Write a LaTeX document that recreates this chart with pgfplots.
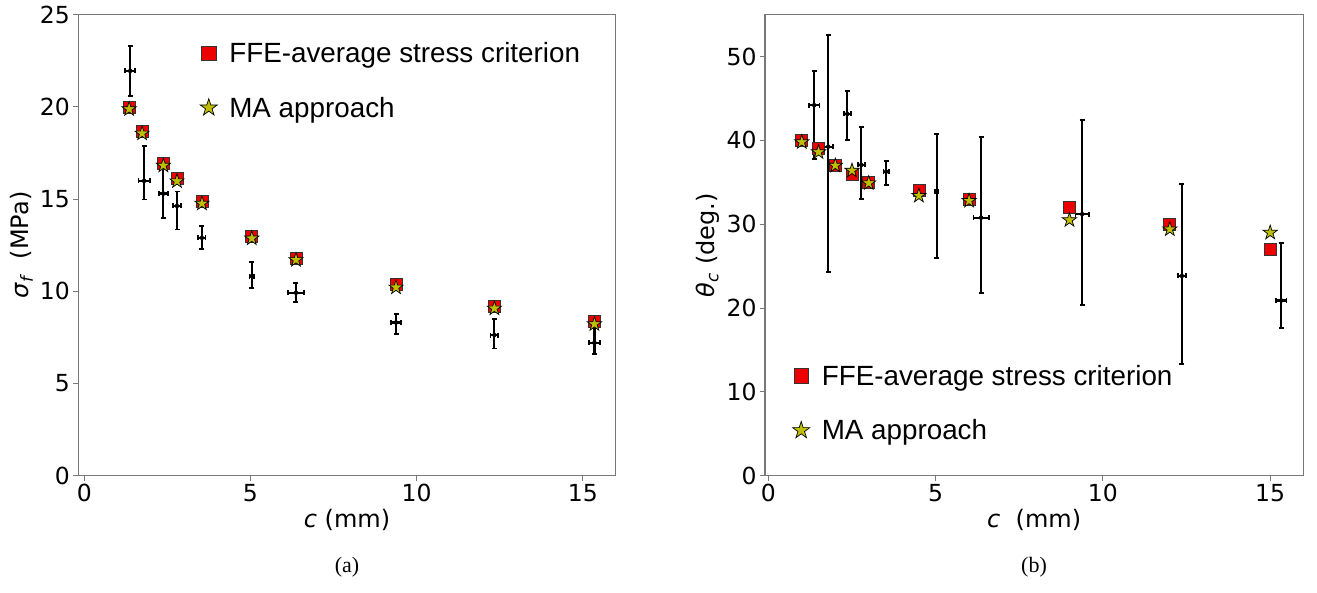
\documentclass[border=0pt]{standalone}
\usepackage{fontspec}
\setmainfont{DejaVu Sans}[ItalicFont={DejaVu Sans Oblique}]
\newfontfamily\arialfont{Liberation Sans}
\newfontfamily\timesfont{Liberation Serif}
\usepackage{pgfplots}
\pgfplotsset{compat=1.18}

\definecolor{sqred}{RGB}{237,0,0}
\definecolor{staryel}{RGB}{191,191,0}
\definecolor{spine}{RGB}{120,120,120}

% filled five-point star, like matplotlib's '*'
\pgfdeclareplotmark{fstar}{%
  \pgfpathmoveto{\pgfpointpolar{90}{\pgfplotmarksize}}%
  \pgfpathlineto{\pgfpointpolar{126}{0.382\pgfplotmarksize}}%
  \pgfpathlineto{\pgfpointpolar{162}{\pgfplotmarksize}}%
  \pgfpathlineto{\pgfpointpolar{198}{0.382\pgfplotmarksize}}%
  \pgfpathlineto{\pgfpointpolar{234}{\pgfplotmarksize}}%
  \pgfpathlineto{\pgfpointpolar{270}{0.382\pgfplotmarksize}}%
  \pgfpathlineto{\pgfpointpolar{306}{\pgfplotmarksize}}%
  \pgfpathlineto{\pgfpointpolar{342}{0.382\pgfplotmarksize}}%
  \pgfpathlineto{\pgfpointpolar{18}{\pgfplotmarksize}}%
  \pgfpathlineto{\pgfpointpolar{54}{0.382\pgfplotmarksize}}%
  \pgfpathclose
  \pgfusepathqfillstroke
}

\pgfplotsset{
  panel/.style={
    scale only axis,
    anchor=south west,
    height=461pt,
    axis line style={spine, line width=1.2pt},
    tick align=outside,
    major tick length=5pt,
    tick style={spine, line width=0.9pt},
    xtick pos=bottom,
    ytick pos=left,
    xtick={0,5,10,15},
    /pgf/number format/assume math mode=true,
    tick label style={font=\fontsize{23.5}{26}\selectfont},
    label style={font=\fontsize{24}{28}\selectfont},
    legend style={draw=none, fill=none, inner sep=0pt,
      font=\arialfont\fontsize{27.8}{30}\selectfont,
      row sep=29pt, cells={anchor=west},
      /tikz/every odd column/.append style={column sep=10pt}},
    legend image code/.code={%
      \draw[#1, every mark/.append style={scale=1.2}] plot coordinates {(0pt,0pt)};},
    clip=false,
  },
  ffe/.style={only marks, mark=square*, mark size=6pt,
    mark options={fill=sqred, draw=black!80, line width=0.7pt}},
  ma/.style={only marks, mark=fstar, mark size=7.5pt,
    mark options={fill=staryel, draw=black, line width=0.7pt}},
  ebar/.style={only marks, mark=none, forget plot,
    error bars/.cd, x dir=both, x explicit, y dir=both, y explicit,
    error bar style={black, line width=2.2pt},
    error mark options={black, rotate=90, mark size=2.5pt, line width=1.8pt}},
}

\begin{document}
\begin{tikzpicture}
\path[use as bounding box] (0pt,0pt) rectangle (1317pt,592pt);

% (a) failure stress
\begin{axis}[panel,
  at={(78.3pt,116.3pt)}, width=537.4pt,
  xmin=-0.18, xmax=15.99, ymin=0, ymax=25,
  ytick={0,5,10,15,20,25},
  xlabel={\textit{c} (mm)},
  ylabel={\textit{σ}\textsubscript{\textit{f}}\ \ (MPa)},
  legend style={at={(axis description cs:0.2265,0.945)}, anchor=north west},
]
\addplot[ebar] coordinates {
  (1.38,21.95) += (0.15,1.35) -= (0.15,1.35)
  (1.80,15.99) += (0.17,1.88) -= (0.17,1.01)
  (2.38,15.30) += (0.13,1.40) -= (0.13,1.32)
  (2.79,14.63) += (0.12,0.78) -= (0.12,1.28)
  (3.54,12.90) += (0.11,0.63) -= (0.11,0.61)
  (5.04,10.82) += (0.07,0.76) -= (0.07,0.66)
  (6.37,9.92)  += (0.24,0.51) -= (0.24,0.49)
  (9.38,8.31)  += (0.16,0.44) -= (0.16,0.63)
  (12.34,7.63) += (0.12,0.86) -= (0.12,0.73)
  (15.35,7.21) += (0.17,0.87) -= (0.17,0.63)
};
\addplot[ffe] coordinates {
  (1.35,19.95) (1.74,18.70) (2.38,16.95) (2.79,16.10) (3.54,14.90)
  (5.04,13.00) (6.37,11.80) (9.38,10.35) (12.34,9.20) (15.35,8.35)
};
\addplot[ma] coordinates {
  (1.35,19.88) (1.74,18.56) (2.38,16.82) (2.79,15.97) (3.54,14.76)
  (5.04,12.87) (6.37,11.70) (9.38,10.21) (12.34,9.07) (15.35,8.22)
};
\legend{FFE-average stress criterion, MA approach}
\end{axis}

% (b) crack initiation angle
\begin{axis}[panel,
  at={(765pt,116.3pt)}, width=538.3pt,
  xmin=-0.1, xmax=15.99, ymin=0, ymax=55,
  ytick={0,10,20,30,40,50},
  xlabel={\textit{c}\ \ (mm)},
  ylabel={\textit{θ}\textsubscript{\textit{c}} (deg.)},
  legend style={at={(axis description cs:0.051,0.245)}, anchor=north west},
]
\addplot[ebar] coordinates {
  (1.37,44.20) += (0.16,4.10)  -= (0.16,6.45)
  (1.79,39.26) += (0.15,13.30) -= (0.15,15.00)
  (2.36,43.16) += (0.11,2.78)  -= (0.11,3.10)
  (2.78,37.08) += (0.10,4.50)  -= (0.10,4.10)
  (3.52,36.28) += (0.08,1.27)  -= (0.08,1.59)
  (5.03,33.89) += (0.05,6.90)  -= (0.05,7.87)
  (6.36,30.79) += (0.23,9.66)  -= (0.23,8.95)
  (9.38,31.20) += (0.20,11.20) -= (0.20,10.80)
  (12.36,23.83) += (0.12,11.00) -= (0.12,10.50)
  (15.33,20.90) += (0.16,6.90) -= (0.16,3.30)
};
\addplot[ffe] coordinates {
  (1,40.0) (1.5,39.0) (2,37.0) (2.5,36.0) (3,35.0)
  (4.5,34.0) (6,33.0) (9,32.0) (12,30.0) (15,27.0)
};
\addplot[ma] coordinates {
  (1,39.8) (1.5,38.6) (2,37.0) (2.5,36.4) (3,34.9)
  (4.5,33.4) (6,32.8) (9,30.5) (12,29.4) (15,29.0)
};
\legend{FFE-average stress criterion, MA approach}
\end{axis}

\node[font=\timesfont\fontsize{22}{26}\selectfont] at (347pt,25pt) {(a)};
\node[font=\timesfont\fontsize{22}{26}\selectfont] at (1034pt,25pt) {(b)};
\end{tikzpicture}
\end{document}
